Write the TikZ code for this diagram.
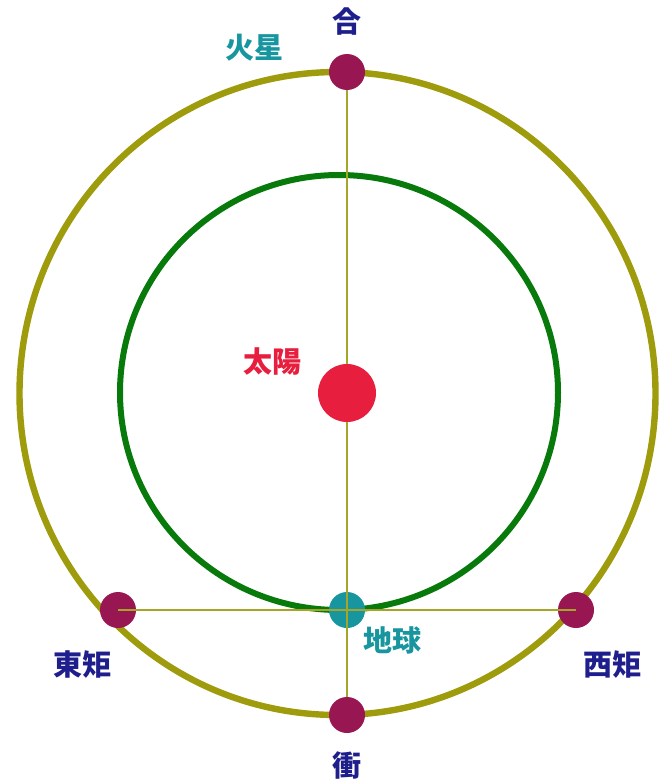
\documentclass[tikz,border=0pt]{standalone}
\usepackage{fontspec}
\newfontfamily\cjk{Noto Sans CJK JP}
\definecolor{marsorbit}{RGB}{158,155,12}
\definecolor{earthorbit}{RGB}{8,122,12}
\definecolor{marsdot}{RGB}{152,22,82}
\definecolor{earthdot}{RGB}{24,150,160}
\definecolor{sunred}{RGB}{232,30,62}
\definecolor{navylbl}{RGB}{30,30,140}
\definecolor{thinline}{RGB}{165,165,40}
\tikzset{
  lbl/.style={font=\cjk\bfseries\fontsize{14.5pt}{16pt}\selectfont, inner sep=0pt},
  marsnode/.style={circle, fill=marsdot, minimum size=18pt, inner sep=0pt},
  guide/.style={draw=thinline, line width=1pt}
}
\begin{document}
\begin{tikzpicture}[x=0.5pt,y=-0.5pt]
\useasboundingbox[fill=white] (0,0) rectangle (660,781);
% orbits
\draw[marsorbit, line width=3.2pt] (337.5,393.5) ellipse [x radius=159pt, y radius=160.75pt];
\draw[earthorbit, line width=3pt] (339,392.5) ellipse [x radius=109.5pt, y radius=108.75pt];
% bodies
\node[marsnode] (conj) at (347,72) {};
\node[marsnode] (opp) at (347,715) {};
\node[marsnode] (east) at (118,610) {};
\node[marsnode] (west) at (576,610) {};
\node[circle, fill=earthdot, minimum size=18pt, inner sep=0pt] (earth) at (347,610) {};
\node[circle, fill=sunred, minimum size=29pt, inner sep=0pt] (sun) at (347,393) {};
% guide lines
\draw[guide] (conj.south) -- (sun.north);
\draw[guide] (sun.south) -- (opp.north);
\draw[guide] (east.center) -- (west.center);
% labels
\node[lbl, text=navylbl] (lconj) at (347,22) {合};
\node[lbl, text=earthdot] (lmars) at (254,48) {火星};
\node[lbl, text=sunred] (lsun) at (272,362) {太陽};
\node[lbl, text=earthdot] (learth) at (392,640) {地球};
\node[lbl, text=navylbl] (least) at (82,665) {東矩};
\node[lbl, text=navylbl] (lwest) at (612,665) {西矩};
\node[lbl, text=navylbl] (lopp) at (347,765) {衝};
\end{tikzpicture}
\end{document}
